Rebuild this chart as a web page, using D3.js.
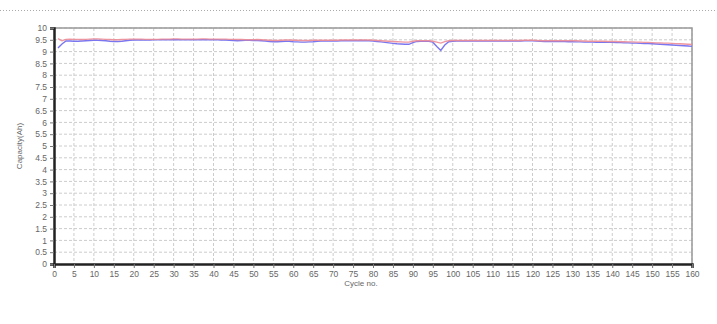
<!DOCTYPE html>
<meta charset="utf-8">
<script src="https://d3js.org/d3.v7.min.js"></script>
<style>
  body { margin: 0; background: #fff; }
  text { font-family: "Liberation Sans", Arial, sans-serif; }
</style>
<div id="plot_div"></div>
<script>
// cycle numbers 1..160
var cycles = d3.range(1, 161);

// capacity (Ah), red series
var capRed = [
  9.55, 9.46, 9.52, 9.53, 9.52, 9.52, 9.51, 9.52, 9.53, 9.54,
  9.54, 9.53, 9.52, 9.51, 9.50, 9.50, 9.51, 9.52, 9.53, 9.53,
  9.53, 9.53, 9.52, 9.52, 9.52, 9.52, 9.53, 9.53, 9.53, 9.54,
  9.54, 9.53, 9.53, 9.53, 9.53, 9.53, 9.54, 9.54, 9.53, 9.53,
  9.53, 9.53, 9.53, 9.52, 9.52, 9.51, 9.51, 9.50, 9.50, 9.50,
  9.51, 9.50, 9.49, 9.48, 9.47, 9.47, 9.48, 9.49, 9.49, 9.48,
  9.48, 9.47, 9.47, 9.47, 9.48, 9.48, 9.48, 9.48, 9.48, 9.48,
  9.48, 9.49, 9.49, 9.49, 9.49, 9.49, 9.49, 9.49, 9.49, 9.48,
  9.47, 9.46, 9.45, 9.44, 9.43, 9.42, 9.41, 9.40, 9.40, 9.44,
  9.46, 9.46, 9.46, 9.46, 9.44, 9.40, 9.36, 9.42, 9.46, 9.47,
  9.47, 9.47, 9.47, 9.47, 9.47, 9.47, 9.47, 9.47, 9.47, 9.47,
  9.47, 9.47, 9.47, 9.47, 9.47, 9.47, 9.47, 9.48, 9.48, 9.48,
  9.47, 9.46, 9.46, 9.46, 9.46, 9.46, 9.46, 9.46, 9.46, 9.46,
  9.46, 9.45, 9.45, 9.44, 9.44, 9.44, 9.44, 9.44, 9.43, 9.43,
  9.43, 9.42, 9.42, 9.41, 9.41, 9.40, 9.40, 9.39, 9.39, 9.38,
  9.37, 9.37, 9.36, 9.36, 9.35, 9.34, 9.33, 9.32, 9.31, 9.30
];

// capacity (Ah), blue series
var capBlue = [
  9.15, 9.32, 9.45, 9.45, 9.44, 9.44, 9.45, 9.46, 9.47, 9.48,
  9.48, 9.47, 9.46, 9.44, 9.43, 9.43, 9.44, 9.46, 9.48, 9.49,
  9.49, 9.49, 9.49, 9.49, 9.50, 9.50, 9.50, 9.50, 9.50, 9.50,
  9.50, 9.50, 9.50, 9.50, 9.50, 9.50, 9.50, 9.50, 9.50, 9.50,
  9.50, 9.49, 9.49, 9.48, 9.47, 9.46, 9.47, 9.48, 9.48, 9.47,
  9.47, 9.46, 9.45, 9.43, 9.42, 9.42, 9.43, 9.44, 9.44, 9.42,
  9.41, 9.40, 9.40, 9.41, 9.42, 9.44, 9.45, 9.45, 9.45, 9.45,
  9.45, 9.46, 9.46, 9.46, 9.46, 9.46, 9.47, 9.46, 9.46, 9.45,
  9.43, 9.41, 9.39, 9.37, 9.35, 9.33, 9.32, 9.31, 9.31, 9.38,
  9.43, 9.44, 9.44, 9.44, 9.40, 9.22, 9.05, 9.28, 9.42, 9.44,
  9.45, 9.45, 9.45, 9.45, 9.45, 9.45, 9.45, 9.45, 9.45, 9.45,
  9.45, 9.45, 9.45, 9.45, 9.45, 9.45, 9.45, 9.46, 9.46, 9.46,
  9.45, 9.44, 9.43, 9.43, 9.43, 9.43, 9.43, 9.43, 9.42, 9.42,
  9.41, 9.41, 9.40, 9.40, 9.40, 9.39, 9.39, 9.39, 9.39, 9.39,
  9.38, 9.38, 9.37, 9.37, 9.36, 9.36, 9.35, 9.34, 9.34, 9.33,
  9.32, 9.31, 9.30, 9.29, 9.28, 9.27, 9.26, 9.25, 9.24, 9.22
];

var xTicks = d3.range(0, 161, 5);
var yTicks = d3.range(0, 10.01, 0.5);

var W = 717, H = 324;
var margin = { top: 28, right: 25, bottom: 60, left: 54 },
    width = W - margin.left - margin.right,
    height = H - margin.top - margin.bottom;

var root = d3.select("#plot_div").append("svg")
    .attr("width", W).attr("height", H);

// dotted separator line at the top
root.append("line")
    .attr("x1", 0).attr("x2", W).attr("y1", 10.5).attr("y2", 10.5)
    .attr("stroke", "#aaa").attr("stroke-width", 1)
    .attr("stroke-dasharray", "1,2");

var svg = root.append("g")
    .attr("transform", "translate(" + margin.left + "," + margin.top + ")");

var x = d3.scaleLinear().domain([0, 160]).range([0, width]);
var y = d3.scaleLinear().domain([0, 10]).range([height, 0]);

// grid
svg.append("g").selectAll("line").data(xTicks.slice(1)).join("line")
    .attr("x1", d => x(d)).attr("x2", d => x(d))
    .attr("y1", 0).attr("y2", height)
    .attr("stroke", "#ccc").attr("stroke-dasharray", "3,2");
svg.append("g").selectAll("line").data(yTicks.slice(1)).join("line")
    .attr("x1", 0).attr("x2", width)
    .attr("y1", d => y(d)).attr("y2", d => y(d))
    .attr("stroke", "#ccc").attr("stroke-dasharray", "3,2");

// frame top/right
svg.append("path")
    .attr("d", "M0,0H" + width + "V" + height)
    .attr("fill", "none").attr("stroke", "#999").attr("stroke-width", 1.5);

// series
var line = d3.line()
    .x((d, i) => x(cycles[i]))
    .y(d => y(d));

svg.append("path").datum(capBlue)
    .attr("d", line)
    .attr("fill", "none").attr("stroke", "#7a76f0").attr("stroke-width", 1.4);
svg.append("path").datum(capRed)
    .attr("d", line)
    .attr("fill", "none").attr("stroke", "#ec8c96").attr("stroke-width", 1.4)
    .attr("opacity", 0.9);

// axes
var yAxis = svg.append("g")
    .call(d3.axisLeft(y).tickValues(yTicks).tickSize(4).tickFormat(d3.format("~g")));
var xAxis = svg.append("g")
    .attr("transform", "translate(0," + height + ")")
    .call(d3.axisBottom(x).tickValues(xTicks).tickSize(4));

[yAxis, xAxis].forEach(function (a) {
    a.select(".domain").attr("stroke", "#222").attr("stroke-width", 2.5);
    a.selectAll(".tick line").attr("stroke", "#777");
    a.selectAll(".tick text").attr("fill", "#666").attr("font-size", 8.5);
});

// axis titles
svg.append("text")
    .attr("transform", "translate(-32," + (height / 2) + ") rotate(-90)")
    .attr("text-anchor", "middle")
    .attr("font-size", 8).attr("fill", "#666")
    .text("Capacity(Ah)");

svg.append("text")
    .attr("x", x(80) - 12).attr("y", height + 22)
    .attr("text-anchor", "middle")
    .attr("font-size", 8).attr("fill", "#666")
    .text("Cycle no.");
</script>
